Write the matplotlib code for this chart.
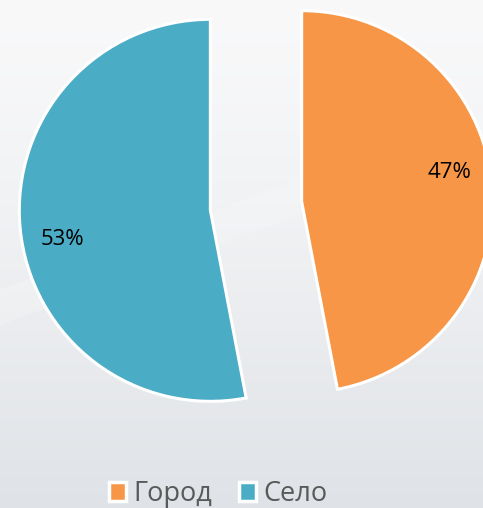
import matplotlib.pyplot as plt
import numpy as np
from matplotlib.patches import Rectangle

# data
labels = ['Город', 'Село']
shares = [47, 53]
colors = ['#F79646', '#4BACC6']

plt.rcParams['font.family'] = ['Open Sans', 'DejaVu Sans']

fig = plt.figure(figsize=(4.83, 5.08), dpi=100)

# background gradient
bg = fig.add_axes([0, 0, 1, 1])
bg.set_axis_off()
grad = np.linspace(0, 1, 256).reshape(-1, 1)
top = np.array([0.975, 0.976, 0.98])
bot = np.array([0.875, 0.888, 0.905])
img = top + (bot - top) * grad[..., None] ** 1.3
img = np.repeat(img, 2, axis=1)
bg.imshow(img, aspect='auto', extent=[0, 1, 0, 1], zorder=0)
# faint diagonal light streak
xs = np.linspace(0, 1, 50)
bg.fill_between(xs, 0.36 + 0.35 * xs, 0.43 + 0.35 * xs, color='white', alpha=0.18, lw=0)
bg.set_xlim(0, 1)
bg.set_ylim(0, 1)

ax = fig.add_axes([0, 0, 1, 1])
ax.set_axis_off()
wedges, _ = ax.pie(shares, colors=colors, startangle=90, counterclock=False,
                   explode=[0.24, 0.24],
                   wedgeprops=dict(edgecolor='white', linewidth=2.2))

# percent labels, slightly rotated from bisector like Excel's best fit
for w, s in zip(wedges, shares):
    ang = np.deg2rad((w.theta1 + w.theta2) / 2 + 5.6)
    cx, cy = w.center
    ax.text(cx + 0.79 * np.cos(ang), cy + 0.79 * np.sin(ang), f'{s}%',
            ha='center', va='center', fontsize=16, color='black')

ax.set_xlim(-1.34, 1.188)
ax.set_ylim(-1.581, 1.0785)
ax.set_aspect('auto')

handles = [Rectangle((0, 0), 1, 1, facecolor=c, edgecolor='white', linewidth=2.5) for c in colors]
leg = fig.legend(handles, labels, loc='center', bbox_to_anchor=(218 / 483, 1 - 494 / 508),
                 ncol=2, frameon=False, fontsize=19.5, handlelength=0.65, handleheight=0.65,
                 handletextpad=0.25, columnspacing=1.0, labelcolor='#595959')

fig.savefig('out.png', dpi=100)
